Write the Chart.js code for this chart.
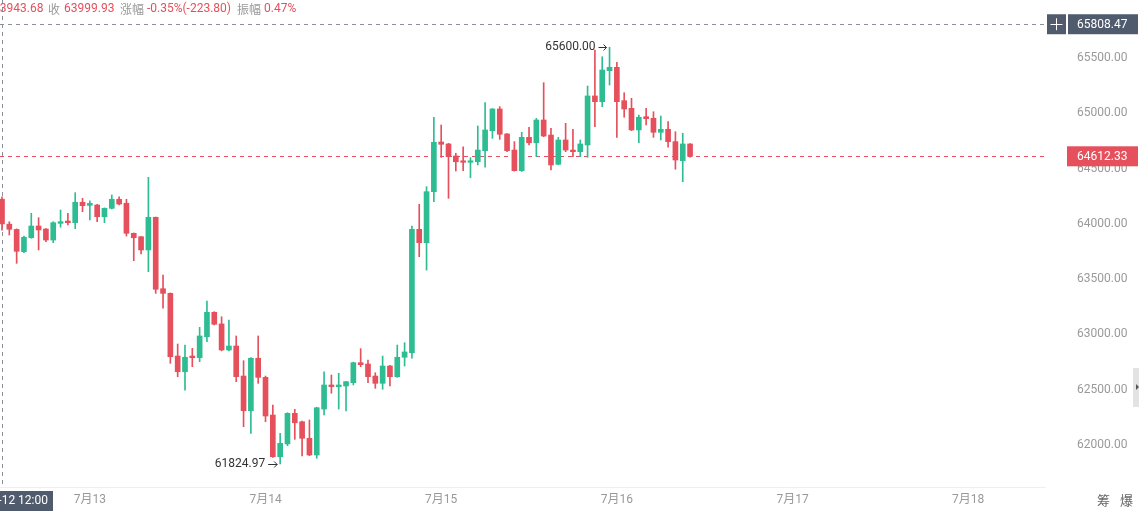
<!DOCTYPE html>
<html>
<head>
<meta charset="utf-8">
<script src="https://cdn.jsdelivr.net/npm/chart.js@4.4.1/dist/chart.umd.min.js"></script>
<style>
  html, body { margin: 0; padding: 0; background: #fff; overflow: hidden; }
  #wrap { width: 1139px; height: 513px; }
  canvas { display: block; }
</style>
</head>
<body>
<div id="wrap"><canvas id="kline" width="1139" height="513"></canvas></div>
<script>
// hourly candles, first one is 07-12 12:00
var opens = [64223.73, 63998, 63950, 63749, 63875, 63981, 63954, 63854, 64005, 64026,
  64011, 64196, 64168, 64171, 64065, 64141, 64223, 64187, 63915, 63884,
  63764, 64060, 63413, 63371, 62803, 62661, 62803, 62788, 62978, 63199,
  63094, 62858, 62894, 62622, 62308, 62783, 62610, 62269, 61891, 62007,
  62284, 62208, 62058, 61907, 62323, 62541, 62526, 62532, 62562, 62743,
  62731, 62622, 62556, 62713, 62616, 62792, 62833, 63951, 63830, 64292,
  64742, 64724, 64615, 64570, 64558, 64563, 64663, 64844, 65041, 64815,
  64669, 64482, 64784, 64735, 64941, 64805, 64540, 64760, 64669, 64654,
  64715, 65159, 65107, 65388, 65418, 65116, 65047, 64851, 64971, 64957,
  64830, 64857, 64745, 64573, 64724]
var highs = [64245.5, 64020, 63955, 63890, 64096, 64056, 63958, 64020, 64126, 64096,
  64283, 64232, 64210, 64178, 64145, 64262, 64246, 64223, 63918, 63886,
  64422, 64062, 63537, 63375, 62912, 62903, 62873, 63063, 63302, 63205,
  63159, 63130, 62985, 62761, 62790, 62985, 62622, 62360, 62103, 62290,
  62320, 62215, 62224, 62340, 62661, 62631, 62647, 62575, 62748, 62870,
  62767, 62652, 62803, 62718, 62903, 62924, 63981, 64178, 64337, 64966,
  64896, 64730, 64640, 64699, 64600, 64887, 65098, 65045, 65062, 64818,
  64745, 64830, 64875, 64956, 65279, 64866, 64784, 64911, 64857, 64760,
  65249, 65575, 65514, 65600, 65464, 65188, 65138, 64986, 65047, 65016,
  64977, 64926, 64835, 64821, 64728]
var lows = [63943.68, 63899, 63643, 63740, 63870, 63764, 63839, 63830, 63970, 63990,
  63957, 64111, 64035, 64020, 64011, 64135, 64172, 63890, 63667, 63727,
  63567, 63371, 63236, 62737, 62616, 62495, 62707, 62752, 62933, 63085,
  62850, 62850, 62571, 62163, 62103, 62556, 62208, 61885, 61824.97, 61990,
  62049, 61898, 61900, 61877, 62269, 62466, 62323, 62305, 62541, 62707,
  62562, 62511, 62502, 62532, 62610, 62713, 62783, 63703, 63582, 64201,
  64603, 64232, 64479, 64482, 64418, 64534, 64513, 64775, 64766, 64654,
  64478, 64475, 64715, 64609, 64790, 64488, 64535, 64654, 64609, 64609,
  64603, 64880, 65062, 65258, 64784, 64966, 64845, 64735, 64896, 64784,
  64760, 64694, 64495, 64382, 64605]
var closes = [63999.93, 63951, 63752, 63879, 63981, 63945, 63854, 64011, 64020, 64011,
  64196, 64165, 64186, 64065, 64141, 64223, 64180, 63915, 63875, 63764,
  64060, 63408, 63371, 62797, 62661, 62792, 62788, 62985, 63199, 63091,
  62858, 62894, 62616, 62308, 62783, 62610, 62260, 61891, 62013, 62284,
  62199, 62058, 61907, 62335, 62541, 62526, 62541, 62571, 62743, 62725,
  62616, 62556, 62713, 62616, 62792, 62840, 63951, 63830, 64292, 64739,
  64721, 64609, 64563, 64558, 64570, 64669, 64851, 65041, 64812, 64663,
  64482, 64784, 64735, 64941, 64796, 64534, 64760, 64669, 64654, 64724,
  65159, 65107, 65394, 65418, 65107, 65041, 64851, 64966, 64953, 64830,
  64857, 64745, 64579, 64724, 64612.33]

var dayTicks = [12, 36, 60, 84, 108, 132]
var dayLabels = ['7月13', '7月14', '7月15', '7月16', '7月17', '7月18']
var priceTicks = [62000, 62500, 63000, 63500, 64000, 64500, 65000, 65500]

var lastPrice = 64612.33
var crossPrice = 65808.47
var crossIndex = 0
var maxIndex = 83
var minIndex = 38

var UP = '#2ebd92'
var DOWN = '#e5505c'
var SLATE = '#505c6e'
var FONT = "Roboto, 'Noto Sans CJK SC', sans-serif"
var CJK = "'Noto Sans CJK SC', sans-serif"

var colors = opens.map(function (o, i) { return closes[i] >= o ? UP : DOWN })

// OVERLAY: crosshair, price line, labels
var overlay = {
    id: 'overlay',
    beforeDatasetsDraw: function (chart) {
        var ctx = chart.ctx, area = chart.chartArea
        var xs = chart.scales.x, ys = chart.scales.y
        ctx.save()
        ctx.lineWidth = 1
        ctx.setLineDash([4, 4])
        // crosshair
        ctx.strokeStyle = '#8a8f99'
        var cy = Math.round(ys.getPixelForValue(crossPrice)) + 0.5
        ctx.beginPath(); ctx.moveTo(area.left, cy); ctx.lineTo(area.right, cy); ctx.stroke()
        var cx = Math.round(xs.getPixelForValue(crossIndex)) + 0.5
        ctx.beginPath(); ctx.moveTo(cx, 0); ctx.lineTo(cx, area.bottom); ctx.stroke()
        // last price
        ctx.strokeStyle = DOWN
        var py = Math.round(ys.getPixelForValue(lastPrice)) + 0.5
        ctx.beginPath(); ctx.moveTo(area.left, py); ctx.lineTo(area.right, py); ctx.stroke()
        ctx.restore()
    },
    afterDraw: function (chart) {
        var ctx = chart.ctx
        var xs = chart.scales.x, ys = chart.scales.y
        ctx.save()
        ctx.textBaseline = 'middle'

        // header line
        var head = [
            ['63943.68', -7, DOWN, FONT], ['收', 48, '#999', CJK], ['63999.93', 64, DOWN, FONT],
            ['涨幅', 120, '#999', CJK], ['-0.35%(-223.80)', 147, DOWN, FONT],
            ['振幅', 237, '#999', CJK], ['0.47%', 264, DOWN, FONT]
        ]
        head.forEach(function (h) {
            ctx.font = '12px ' + h[3]
            ctx.fillStyle = h[2]
            ctx.fillText(h[0], h[1], 9)
        })
        ctx.font = '12px ' + FONT

        // right side price boxes
        var cy = ys.getPixelForValue(crossPrice)
        ctx.fillStyle = SLATE
        ctx.fillRect(1047, cy - 10, 19, 20)
        ctx.fillRect(1068, cy - 10, 70, 20)
        ctx.strokeStyle = '#fff'
        ctx.lineWidth = 1
        ctx.beginPath()
        ctx.moveTo(1050.5, Math.round(cy) + 0.5); ctx.lineTo(1062.5, Math.round(cy) + 0.5)
        ctx.moveTo(1056.5, cy - 6); ctx.lineTo(1056.5, cy + 6)
        ctx.stroke()
        ctx.fillStyle = '#fff'
        ctx.fillText(crossPrice.toFixed(2), 1077, cy + 1)

        var py = ys.getPixelForValue(lastPrice)
        ctx.fillStyle = DOWN
        ctx.fillRect(1067, py - 10, 71, 20)
        ctx.fillStyle = '#fff'
        ctx.fillText(lastPrice.toFixed(2), 1077, py + 1)

        // bottom time box
        ctx.fillStyle = SLATE
        ctx.fillRect(0, 491, 53, 20)
        ctx.fillStyle = '#fff'
        ctx.textAlign = 'right'
        ctx.fillText('07-12 12:00', 48, 501)

        // high / low marks
        ctx.fillStyle = '#333'
        var hx = xs.getPixelForValue(maxIndex), hy = ys.getPixelForValue(highs[maxIndex])
        ctx.fillText(highs[maxIndex].toFixed(2), hx - 14, hy)
        var lx = xs.getPixelForValue(minIndex), ly = ys.getPixelForValue(lows[minIndex])
        ctx.fillText(lows[minIndex].toFixed(2), lx - 15, ly)
        ctx.strokeStyle = '#333'
        ctx.beginPath()
        hy = Math.round(hy) + 0.5
        ly = Math.round(ly) + 0.5
        ctx.moveTo(hx - 11, hy); ctx.lineTo(hx - 3, hy)
        ctx.moveTo(hx - 6, hy - 3); ctx.lineTo(hx - 3, hy); ctx.lineTo(hx - 6, hy + 3)
        ctx.moveTo(lx - 12, ly); ctx.lineTo(lx - 3, ly)
        ctx.moveTo(lx - 6, ly - 3); ctx.lineTo(lx - 3, ly); ctx.lineTo(lx - 6, ly + 3)
        ctx.stroke()

        // bottom right buttons
        ctx.textAlign = 'left'
        ctx.fillStyle = '#666'
        ctx.font = '13px ' + CJK
        ctx.fillText('筹', 1097, 500)
        ctx.fillText('爆', 1120, 500)

        // side tab
        ctx.fillStyle = '#e3e3e3'
        ctx.fillRect(1133, 368, 6, 39)
        ctx.fillStyle = '#555'
        ctx.beginPath()
        ctx.moveTo(1136, 384); ctx.lineTo(1139, 387); ctx.lineTo(1136, 390)
        ctx.fill()
        ctx.restore()
    }
}

// CANDLES
var cnx = document.getElementById('kline')
var bodies = opens.map(function (o, i) {
    return { x: i, y: [Math.min(o, closes[i]), Math.max(o, closes[i])] }
})
var wicks = opens.map(function (o, i) {
    return { x: i, y: [lows[i], highs[i]] }
})

var kline = new Chart(cnx, {
    type: 'bar',
    data: {
        datasets: [
            {
                data: bodies,
                backgroundColor: colors,
                borderWidth: 0,
                barThickness: 5,
                minBarLength: 1.5,
                grouped: false
            },
            {
                data: wicks,
                backgroundColor: colors,
                borderWidth: 0,
                barThickness: 1,
                grouped: false
            }
        ]
    },
    options: {
        responsive: false,
        animation: false,
        devicePixelRatio: 1,
        layout: { padding: 0 },
        plugins: {
            legend: { display: false },
            tooltip: { enabled: false }
        },
        scales: {
            x: {
                type: 'linear',
                offset: false,
                min: -0.273,
                max: 142.49,
                grid: { display: false, drawTicks: false },
                border: { display: true, color: '#efefef' },
                afterBuildTicks: function (axis) {
                    axis.ticks = dayTicks.map(function (v) { return { value: v } })
                },
                afterFit: function (axis) {
                    axis.height = 26
                    axis.paddingLeft = 0
                    axis.paddingRight = 0
                },
                ticks: {
                    autoSkip: false,
                    maxRotation: 0,
                    padding: 6,
                    color: '#999',
                    font: { size: 12, family: FONT },
                    callback: function (v) {
                        var k = dayTicks.indexOf(v)
                        return k < 0 ? '' : dayLabels[k]
                    }
                }
            },
            y: {
                position: 'right',
                min: 61617,
                max: 66028,
                grid: { display: false, drawTicks: false },
                border: { display: false },
                afterBuildTicks: function (axis) {
                    axis.ticks = priceTicks.map(function (v) { return { value: v } })
                },
                afterFit: function (axis) {
                    axis.width = 94
                    axis.paddingTop = 0
                    axis.paddingBottom = 0
                },
                ticks: {
                    padding: 32,
                    color: '#9a9a9a',
                    font: { size: 12, family: FONT },
                    callback: function (v) { return Number(v).toFixed(2) }
                }
            }
        }
    },
    plugins: [overlay]
})
</script>
</body>
</html>
